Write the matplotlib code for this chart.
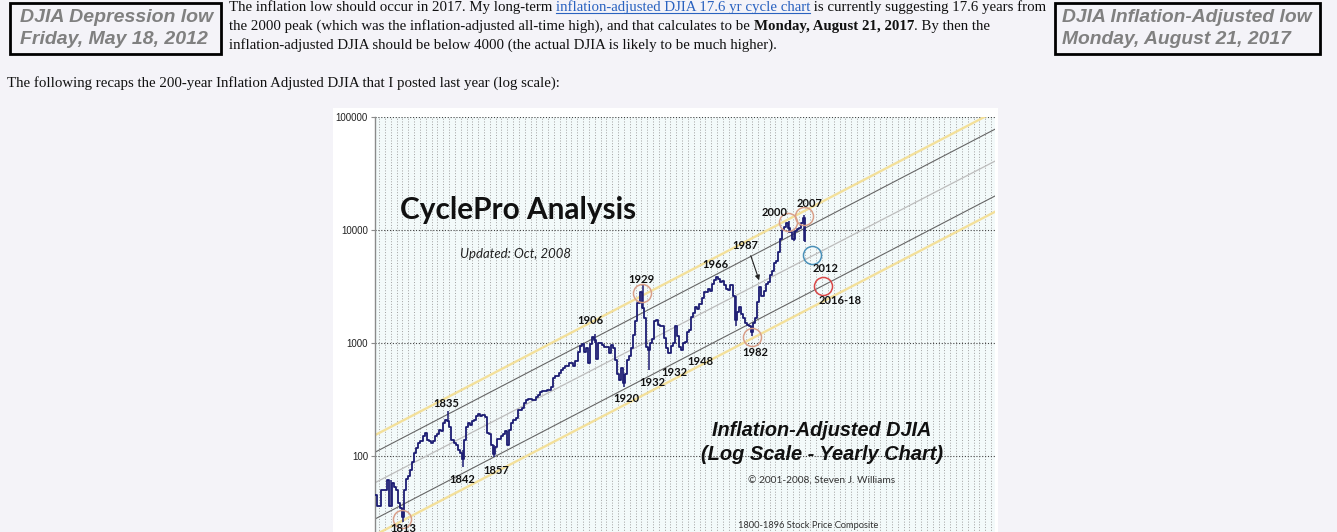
import numpy as np
import matplotlib
matplotlib.use('Agg')
import matplotlib.pyplot as plt
from matplotlib.patches import Rectangle
from matplotlib.lines import Line2D
from matplotlib.ticker import MultipleLocator, FixedLocator, NullLocator

# ---------------- data ----------------
years = list(range(1800, 2009))
djia_real = [
    45, 36, 36, 50, 50, 50, 61, 36, 58, 53,            # 1800s
    50, 38, 35, 29, 50, 62, 66, 75, 88, 107,           # 1810s
    117, 131, 135, 150, 159, 139, 135, 130, 135, 150,  # 1820s
    155, 170, 165, 195, 210, 205, 180, 139, 130, 125,  # 1830s
    113, 107, 95, 139, 180, 195, 190, 205, 210, 225,   # 1840s
    235, 225, 230, 220, 160, 155, 125, 105, 120, 140,  # 1850s
    140, 150, 155, 165, 125, 170, 195, 208, 215, 255,  # 1860s
    255, 265, 293, 315, 320, 320, 315, 315, 330, 345,  # 1870s
    370, 375, 375, 380, 380, 411, 490, 510, 510, 540,  # 1880s
    577, 600, 620, 620, 660, 660, 620, 700, 840, 935,  # 1890s
    970, 840, 900, 660, 970, 1140, 1060, 720, 1000, 1000,   # 1900s
    960, 930, 920, 820, 960, 900, 707, 530, 470, 600,       # 1910s
    440, 530, 707, 760, 900, 1180, 1550, 2250, 2850, 2050,  # 1920s
    1650, 930, 860, 1000, 1080, 1550, 1600, 1450, 1400, 1400,  # 1930s
    1100, 900, 820, 950, 1000, 1400, 1150, 930, 860, 1000,     # 1940s
    1020, 1250, 1300, 1700, 1850, 2100, 2000, 2200, 2500, 2800,  # 1950s
    2800, 3000, 2900, 3300, 3600, 3800, 3700, 3500, 3550, 3250,  # 1960s
    3000, 2950, 3250, 2600, 1600, 1900, 2100, 1800, 1650, 1500,  # 1970s
    1450, 1400, 1250, 1500, 1650, 2300, 3100, 2600, 2900, 3350,  # 1980s
    3500, 4000, 4300, 5100, 5300, 6400, 8400, 10000, 10700, 11500,  # 1990s
    10500, 9600, 8300, 9800, 10300, 10500, 11600, 12800, 8000,      # 2000s
]

# yearly high-low extremes at notable turning points
spike_years = [1807, 1813, 1835, 1842, 1857, 1906, 1920, 1929, 1932, 1974, 1982, 2000, 2002, 2007]
spike_low   = [36, 26, 200, 80, 98, 1000, 410, 2000, 580, 1400, 1150, 9500, 8000, 8000]
spike_high  = [61, 35, 250, 112, 125, 1200, 530, 3300, 930, 2600, 1400, 12000, 9800, 13500]

# log-linear channel lines: value at 1800 and at 2100
channel_start = [153, 108, 58, 27.7, 20]
channel_end   = [112000, 78000, 40700, 20000, 14500]
channel_colors = ['#f3e09a', '#666666', '#bdbdbd', '#666666', '#f3e09a']
channel_widths = [1.7, 0.8, 0.9, 0.8, 1.7]

# circled turning points
circle_years  = [1813, 1929.2, 1982.4, 1999.8, 2007.5, 2011.4, 2016.7]
circle_values = [27.6, 2760, 1130, 11800, 13300, 6000, 3200]
circle_colors = ['#d9a08a', '#d9a08a', '#d9a08a', '#d9a08a', '#d9a08a', '#4a90b8', '#d94848']

# year labels
label_text   = ['1813', '1835', '1842', '1857', '1906', '1920', '1932', '1929', '1932',
                '1948', '1966', '1982', '1987', '2000', '2007', '2012', '2016-18']
label_years  = [1813.5, 1834.3, 1842.1, 1858.5, 1904.0, 1921.4, 1934.0, 1928.7, 1945.1,
                1957.2, 1964.5, 1983.8, 1979.0, 1993.5, 2010.4, 2018.2, 2025.0]
label_values = [23, 294, 62.5, 75, 1567, 326, 443, 3680, 543,
                680, 5000, 832, 7360, 14400, 17300, 4610, 2355]

ytick_values = [100, 1000, 10000, 100000]
ytick_labels = ['100', '1000', '10000', '100000']

# ---------------- figure ----------------
W, H = 1337, 532
fig = plt.figure(figsize=(W / 100, H / 100), dpi=100)
fig.patch.set_facecolor('#f4f3f8')
renderer = fig.canvas.get_renderer()

def fx(px):
    return px / W

def fy(py):
    return 1 - py / H

# white chart image backdrop
fig.patches.append(Rectangle((fx(333), fy(540)), fx(998) - fx(333), fy(108) - fy(540),
                             transform=fig.transFigure, facecolor='white',
                             edgecolor='none', zorder=-5))

ax = fig.add_axes([fx(375), 1 - 569 / H, (995 - 375) / W, (569 - 117) / H])
ax.set_zorder(1)
ax.set_facecolor('#f3fafa')
ax.set_yscale('log')
ax.set_xlim(1800, 2100)
ax.set_ylim(10, 100000)

for s in ['top', 'right', 'bottom']:
    ax.spines[s].set_visible(False)
ax.spines['left'].set_color('#8a8a8a')
ax.spines['left'].set_linewidth(1.0)

ax.xaxis.set_major_locator(MultipleLocator(2.82))
ax.tick_params(axis='x', length=0, labelbottom=False)
ax.yaxis.set_major_locator(FixedLocator(ytick_values))
ax.yaxis.set_minor_locator(NullLocator())
ax.set_yticklabels(ytick_labels, fontsize=7, color='#222222', family='Liberation Sans')
ax.tick_params(axis='y', length=3, width=0.8, color='#8a8a8a', pad=2)
ax.grid(axis='x', color='#a0a0a0', linestyle=(0, (1, 1.8)), linewidth=0.7)
ax.grid(axis='y', color='#444444', linestyle=(0, (1, 1.6)), linewidth=0.8)
ax.set_axisbelow(True)

# channel lines
xs = np.array([1800, 2100])
for v0, v1, c, lw in zip(channel_start, channel_end, channel_colors, channel_widths):
    ax.plot(xs, [v0, v1], color=c, linewidth=lw, zorder=2)

# DJIA step line
ax.step(years, djia_real, where='post', color='#1c1c72', linewidth=1.3, zorder=4)
ax.vlines([y + 0.5 for y in spike_years], spike_low, spike_high, color='#1c1c72',
          linewidth=1.1, zorder=4)

# circles
for cx, cv, cc in zip(circle_years, circle_values, circle_colors):
    ax.plot([cx], [cv], marker='o', markersize=13, markerfacecolor='none',
            markeredgecolor=cc, markeredgewidth=1.1, zorder=5)

# year labels
for t, lx, lv in zip(label_text, label_years, label_values):
    ax.text(lx, lv, t, ha='center', va='center', fontsize=8, fontweight='bold',
            family='Lato', color='#111111', zorder=6)

# 1987 arrow
ax.annotate('', xy=(1986.3, 3400), xytext=(1981.4, 6250),
            arrowprops=dict(arrowstyle='-|>', color='#222222', lw=0.8,
                            mutation_scale=7), zorder=6)

# ---------------- helpers ----------------
def fit_text(x, y, s, width_px, ha='left', va='center', **kw):
    t = fig.text(fx(x), fy(y), s, ha=ha, va=va, fontsize=10, zorder=10, **kw)
    w = t.get_window_extent(renderer).width
    t.set_fontsize(10 * width_px / w)
    return t

# chart texts
fit_text(518, 210, 'CyclePro Analysis', 237, ha='center', family='Lato',
         fontweight='bold', color='#111111')
fit_text(516, 254, 'Updated: Oct, 2008', 110, ha='center', family='Lato',
         style='italic', color='#222222')
fit_text(822, 431, 'Inflation-Adjusted DJIA', 220, ha='center', family='Liberation Sans',
         fontweight='bold', style='italic', color='#111111')
fit_text(822, 455, '(Log Scale - Yearly Chart)', 242, ha='center', family='Liberation Sans',
         fontweight='bold', style='italic', color='#111111')
fit_text(822, 481, '\u00a9 2001-2008, Steven J. Williams', 146, ha='center', family='Lato',
         color='#333333')
fit_text(808, 525, '1800-1896 Stock Price Composite', 140, ha='center', family='Lato',
         color='#333333')

# ---------------- header ----------------
ref = fig.text(0, 0, 'inflation-adjusted DJIA should be below 4000 (the actual DJIA is likely to be much higher).',
               fontsize=10, family='Liberation Serif')
hsize = 10 * 549 / ref.get_window_extent(renderer).width
ref.remove()

def draw_segments(x, y, segments):
    cur = x
    for s, kw in segments:
        kw = dict(kw)
        link = kw.pop('link', False)
        t = fig.text(fx(cur), fy(y), s, ha='left', va='baseline', fontsize=hsize,
                     family='Liberation Serif', **kw)
        bb = t.get_window_extent(renderer)
        if link:
            fig.lines.append(Line2D([fx(cur), fx(cur + bb.width)], [fy(y + 2), fy(y + 2)],
                                    transform=fig.transFigure, color=kw.get('color'),
                                    linewidth=0.8))
        cur += bb.width

draw_segments(229, 11, [('The inflation low should occur in 2017. My long-term ', {'color': '#111111'}),
                        ('inflation-adjusted DJIA 17.6 yr cycle chart', {'color': '#2a62c0', 'link': True}),
                        (' is currently suggesting 17.6 years from', {'color': '#111111'})])
draw_segments(229, 30, [('the 2000 peak (which was the inflation-adjusted all-time high), and that calculates to be ', {'color': '#111111'}),
                        ('Monday, August 21, 2017', {'color': '#111111', 'fontweight': 'bold'}),
                        ('. By then the', {'color': '#111111'})])
draw_segments(229, 49, [('inflation-adjusted DJIA should be below 4000 (the actual DJIA is likely to be much higher).', {'color': '#111111'})])
draw_segments(7, 87, [('The following recaps the 200-year Inflation Adjusted DJIA that I posted last year (log scale):', {'color': '#111111'})])

# boxes
for (x0, y0, x1, y1) in [(10, 3, 221, 54), (1055, 3, 1320, 54)]:
    fig.patches.append(Rectangle((fx(x0), fy(y1)), fx(x1) - fx(x0), fy(y0) - fy(y1),
                                 transform=fig.transFigure, facecolor='none',
                                 edgecolor='black', linewidth=2, zorder=3))

bkw = dict(family='Liberation Sans', fontweight='bold', style='italic', color='#808080')
t1 = fit_text(20, 17, 'DJIA Depression low', 193, **bkw)
fig.text(fx(20), fy(40), 'Friday, May 18, 2012', ha='left', va='center',
         fontsize=t1.get_fontsize(), **bkw)
t2 = fit_text(1062, 17, 'DJIA Inflation-Adjusted low', 250, **bkw)
fig.text(fx(1062), fy(40), 'Monday, August 21, 2017', ha='left', va='center',
         fontsize=t2.get_fontsize(), **bkw)

fig.savefig('out.png', dpi=100, facecolor=fig.get_facecolor())
